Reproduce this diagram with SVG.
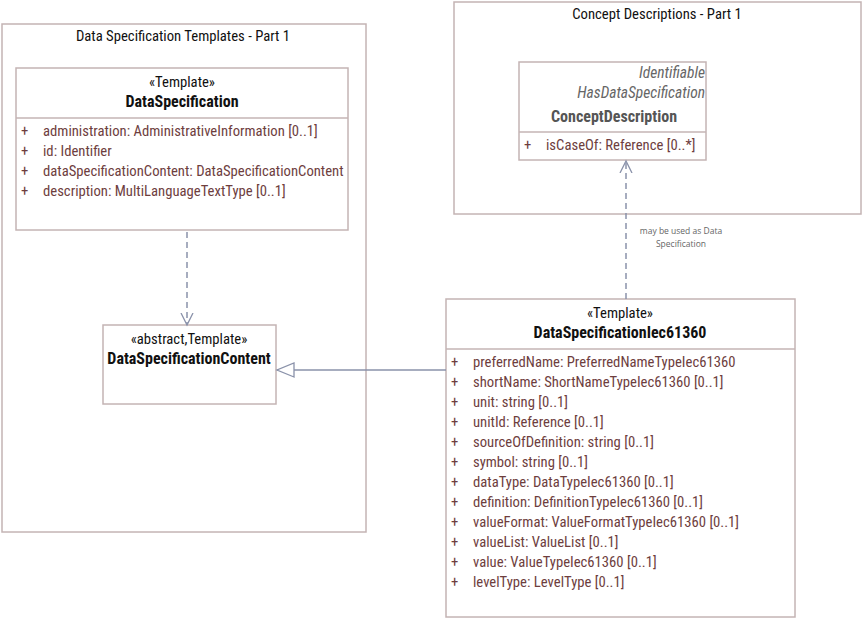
<svg xmlns="http://www.w3.org/2000/svg" width="863" height="620" viewBox="0 0 863 620">
<defs>
<style>
.box{fill:#fff;stroke:#c4b4b4;stroke-width:1.5}
.div{stroke:#c4b4b4;stroke-width:1.5}
text{font-family:"Liberation Sans Narrow","Roboto Condensed","Arial Narrow","Liberation Sans",sans-serif;font-size:14.7px}
.st{fill:#111;text-anchor:middle}
.nm{fill:#111;font-weight:bold;text-anchor:middle;font-size:16px}
.at{fill:#6e3e3e}
.it{fill:#666;font-style:italic;text-anchor:end;font-size:15.5px}
.lb{font-family:"Open Sans","Liberation Sans",sans-serif;font-size:8.5px;fill:#666;text-anchor:middle}
.con{fill:none;stroke:#8a92aa;stroke-width:1.5}
.dash{stroke-dasharray:6,4}
</style>
<marker id="open" markerWidth="14" markerHeight="14" refX="12" refY="7" orient="auto" markerUnits="userSpaceOnUse">
<path d="M0,1 L12,7 L0,13" fill="none" stroke="#8a92aa" stroke-width="1.3"/>
</marker>
<marker id="gen" markerWidth="20" markerHeight="20" refX="18" refY="8" orient="auto" markerUnits="userSpaceOnUse">
<path d="M1,1 L18,8 L1,15 Z" fill="#fff" stroke="#8a92aa" stroke-width="1.3"/>
</marker>
</defs>
<g id="pkg-templates">
<rect class="box" x="2" y="24" width="364" height="508"/>
<text class="st" x="183" y="41">Data Specification Templates - Part 1</text>
</g>
<g id="pkg-concepts">
<rect class="box" x="454" y="2" width="407" height="212"/>
<text class="st" x="657" y="19">Concept Descriptions - Part 1</text>
</g>
<g id="DataSpecification">
<rect class="box" x="16" y="68" width="332" height="162"/>
<line class="div" x1="16" y1="118" x2="348" y2="118"/>
<text class="st" x="182" y="87">«Template»</text>
<text class="nm" x="182" y="107">DataSpecification</text>
<text class="at" x="21" y="136">+</text><text class="at" x="43" y="136">administration: AdministrativeInformation [0..1]</text>
<text class="at" x="21" y="156">+</text><text class="at" x="43" y="156">id: Identifier</text>
<text class="at" x="21" y="176">+</text><text class="at" x="43" y="176">dataSpecificationContent: DataSpecificationContent</text>
<text class="at" x="21" y="196">+</text><text class="at" x="43" y="196">description: MultiLanguageTextType [0..1]</text>
</g>
<g id="ConceptDescription">
<rect class="box" x="519" y="62" width="187" height="98"/>
<line class="div" x1="519" y1="132" x2="706" y2="132"/>
<text class="it" x="705" y="78">Identifiable</text>
<text class="it" x="705" y="98">HasDataSpecification</text>
<text class="nm" x="614" y="122" style="fill:#555">ConceptDescription</text>
<text class="at" x="524" y="150">+</text><text class="at" x="546" y="150">isCaseOf: Reference [0..*]</text>
</g>
<g id="DataSpecificationContent">
<rect class="box" x="103" y="325" width="173" height="79"/>
<text class="st" x="189" y="344">«abstract,Template»</text>
<text class="nm" x="189" y="364">DataSpecificationContent</text>
</g>
<g id="DataSpecificationIec61360">
<rect class="box" x="446" y="299" width="349" height="318"/>
<line class="div" x1="446" y1="349" x2="795" y2="349"/>
<text class="st" x="620" y="318">«Template»</text>
<text class="nm" x="620" y="338">DataSpecificationIec61360</text>
<g class="at">
<text x="451" y="367">+</text><text x="473" y="367">preferredName: PreferredNameTypeIec61360</text>
<text x="451" y="387">+</text><text x="473" y="387">shortName: ShortNameTypeIec61360 [0..1]</text>
<text x="451" y="407">+</text><text x="473" y="407">unit: string [0..1]</text>
<text x="451" y="427">+</text><text x="473" y="427">unitId: Reference [0..1]</text>
<text x="451" y="447">+</text><text x="473" y="447">sourceOfDefinition: string [0..1]</text>
<text x="451" y="467">+</text><text x="473" y="467">symbol: string [0..1]</text>
<text x="451" y="487">+</text><text x="473" y="487">dataType: DataTypeIec61360 [0..1]</text>
<text x="451" y="507">+</text><text x="473" y="507">definition: DefinitionTypeIec61360 [0..1]</text>
<text x="451" y="527">+</text><text x="473" y="527">valueFormat: ValueFormatTypeIec61360 [0..1]</text>
<text x="451" y="547">+</text><text x="473" y="547">valueList: ValueList [0..1]</text>
<text x="451" y="567">+</text><text x="473" y="567">value: ValueTypeIec61360 [0..1]</text>
<text x="451" y="587">+</text><text x="473" y="587">levelType: LevelType [0..1]</text>
</g>
</g>
<g id="connectors">
<line class="con dash" x1="187" y1="232" x2="187" y2="325" marker-end="url(#open)"/>
<line class="con dash" x1="626" y1="299" x2="626" y2="161" marker-end="url(#open)"/>
<line class="con" x1="446" y1="370" x2="277" y2="370" marker-end="url(#gen)"/>
<text class="lb" x="681" y="234">may be used as Data</text>
<text class="lb" x="681" y="247">Specification</text>
</g>
</svg>
